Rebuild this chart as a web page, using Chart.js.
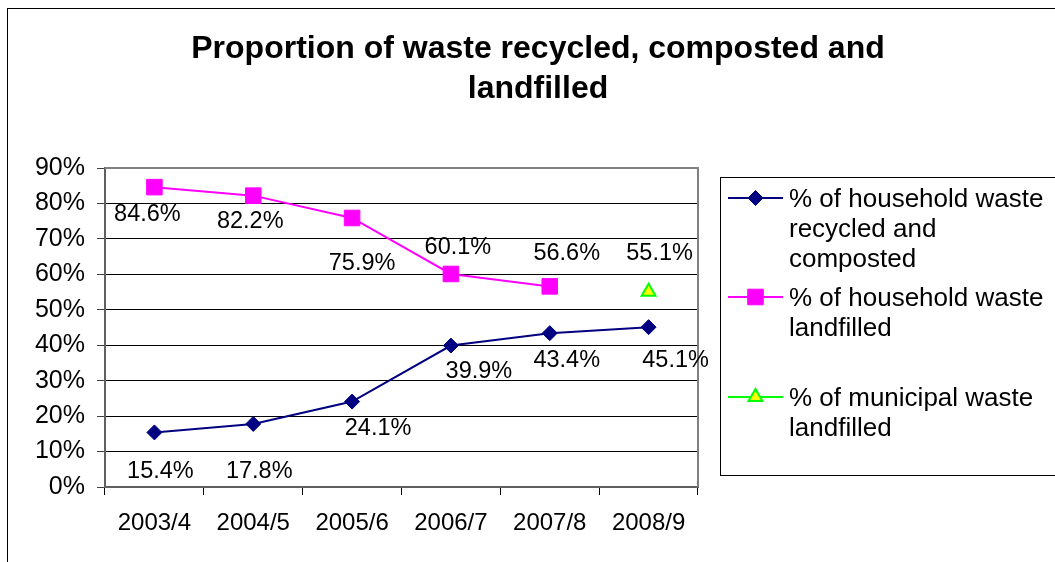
<!DOCTYPE html>
<html>
<head>
<meta charset="utf-8">
<script src="https://cdn.jsdelivr.net/npm/chart.js@4/dist/chart.umd.min.js"></script>
<style>
  body { margin: 0; background: #fff; }
  canvas { display: block; }
</style>
</head>
<body>
<canvas id="main_chart" width="1055" height="562"></canvas>
<script>
var years = ["2003/4", "2004/5", "2005/6", "2006/7", "2007/8", "2008/9"];
var recycled = [15.4, 17.8, 24.1, 39.9, 43.4, 45.1];
var householdLandfill = [84.6, 82.2, 75.9, 60.1, 56.6, null];
var municipalLandfill = [null, null, null, null, null, 55.1];
var yTicks = [0, 10, 20, 30, 40, 50, 60, 70, 80, 90];

var legendLines = [
    ["% of household waste", "recycled and", "composted"],
    ["% of household waste", "landfilled"],
    ["% of municipal waste", "landfilled"]
];

// where each value label sits, relative to its point
var labelOffsets = [
    [[6, 39], [6, 48], [26, 27], [28, 26], [17, 27], [27, 33]],
    [[-7, 27], [-3, 26], [10, 46], [7, -26], [17, -33], [0, 0]],
    [[0, 0], [0, 0], [0, 0], [0, 0], [0, 0], [11, -38]]
];

var FONT = "'Liberation Sans', Arial, sans-serif";

var frame = {
    id: "frame",
    beforeDraw: function (chart) {
        var ctx = chart.ctx;
        ctx.save();
        ctx.strokeStyle = "#000";
        ctx.lineWidth = 1;
        ctx.strokeRect(7.5, 8.5, 2000, 2000);
        ctx.restore();
    },
    beforeDatasetsDraw: function (chart) {
        var a = chart.chartArea;
        var ctx = chart.ctx;
        ctx.save();
        ctx.strokeStyle = "#808080";
        ctx.lineWidth = 2;
        ctx.beginPath();
        ctx.moveTo(a.left, a.top);
        ctx.lineTo(a.right, a.top);
        ctx.lineTo(a.right, a.bottom);
        ctx.stroke();
        ctx.restore();
    }
};

var valueLabels = {
    id: "valueLabels",
    afterDatasetsDraw: function (chart) {
        var ctx = chart.ctx;
        ctx.save();
        ctx.font = "23.5px " + FONT;
        ctx.fillStyle = "#000";
        ctx.textAlign = "center";
        ctx.textBaseline = "middle";
        chart.data.datasets.forEach(function (ds, i) {
            var meta = chart.getDatasetMeta(i);
            meta.data.forEach(function (pt, j) {
                var v = ds.data[j];
                if (v === null) return;
                var off = labelOffsets[i][j];
                ctx.fillText(v.toFixed(1) + "%", pt.x + off[0], pt.y + off[1]);
            });
        });
        ctx.restore();
    }
};

var sideLegend = {
    id: "sideLegend",
    afterDraw: function (chart) {
        var ctx = chart.ctx;
        var rows = [198, 297, 397];
        ctx.save();
        ctx.strokeStyle = "#000";
        ctx.lineWidth = 1;
        ctx.strokeRect(720.5, 177.5, 400, 298);
        chart.data.datasets.forEach(function (ds, i) {
            var y = rows[i];
            ctx.strokeStyle = ds.borderColor;
            ctx.lineWidth = 2;
            ctx.beginPath();
            ctx.moveTo(728, y);
            ctx.lineTo(783, y);
            ctx.stroke();
            ctx.fillStyle = ds.pointBackgroundColor;
            ctx.strokeStyle = ds.pointBorderColor;
            ctx.lineWidth = ds.pointBorderWidth;
            Chart.helpers.drawPoint(ctx, {
                pointStyle: ds.pointStyle,
                radius: ds.pointRadius,
                rotation: 0,
                borderWidth: ds.pointBorderWidth
            }, 755.5, y);
            ctx.fillStyle = "#000";
            ctx.font = "26px " + FONT;
            ctx.textAlign = "left";
            ctx.textBaseline = "alphabetic";
            legendLines[i].forEach(function (line, k) {
                ctx.fillText(line, 789, y + 9 + k * 30);
            });
        });
        ctx.restore();
    }
};

var chart = new Chart(document.getElementById("main_chart"), {
    type: "line",
    data: {
        labels: years,
        datasets: [{
            label: legendLines[0].join(" "),
            data: recycled,
            borderColor: "#000080",
            borderWidth: 2,
            pointStyle: "rectRot",
            pointRadius: 7.5,
            pointBackgroundColor: "#000080",
            pointBorderColor: "#000080",
            pointBorderWidth: 1
        }, {
            label: legendLines[1].join(" "),
            data: householdLandfill,
            borderColor: "#ff00ff",
            borderWidth: 2,
            pointStyle: "rect",
            pointRadius: 11,
            pointBackgroundColor: "#ff00ff",
            pointBorderColor: "#ff00ff",
            pointBorderWidth: 1
        }, {
            label: legendLines[2].join(" "),
            data: municipalLandfill,
            borderColor: "#00ff00",
            borderWidth: 2,
            pointStyle: "triangle",
            pointRadius: 8,
            pointBackgroundColor: "#ffff00",
            pointBorderColor: "#00ff00",
            pointBorderWidth: 2
        }]
    },
    options: {
        responsive: false,
        animation: false,
        devicePixelRatio: 1,
        layout: { padding: { left: 21, top: 0, right: 0, bottom: 0 } },
        plugins: {
            legend: { display: false },
            tooltip: { enabled: false },
            title: {
                display: true,
                text: ["Proportion of waste recycled, composted and", "landfilled"],
                color: "#000",
                font: { family: FONT, size: 32, weight: "bold", lineHeight: 1.25 },
                padding: { top: 29, bottom: 59 }
            }
        },
        scales: {
            x: {
                offset: true,
                grid: {
                    display: true,
                    offset: true,
                    drawOnChartArea: false,
                    drawTicks: true,
                    tickLength: 8,
                    color: "#000"
                },
                border: { display: true, color: "#606060", width: 2 },
                ticks: {
                    color: "#000",
                    padding: 14,
                    maxRotation: 0,
                    font: { family: FONT, size: 24 }
                },
                afterFit: function (scale) { scale.height = 75; }
            },
            y: {
                min: 0,
                max: 90,
                afterBuildTicks: function (scale) {
                    scale.ticks = yTicks.map(function (v) { return { value: v }; });
                },
                grid: {
                    color: function (c) { return c.tick && c.tick.value === 90 ? "#808080" : "#000"; },
                    tickColor: "#404040",
                    tickLength: 8,
                    drawTicks: true
                },
                border: { display: true, color: "#606060", width: 2 },
                ticks: {
                    color: "#000",
                    padding: 12,
                    font: { family: FONT, size: 25 },
                    callback: function (v) { return v + "%"; }
                },
                afterFit: function (scale) { scale.width = 84; }
            },
            side: {
                type: "linear",
                position: "right",
                display: true,
                grid: { display: false },
                border: { display: false },
                ticks: { display: false },
                afterFit: function (scale) { scale.width = 357; }
            }
        }
    },
    plugins: [frame, valueLabels, sideLegend]
});
</script>
</body>
</html>
